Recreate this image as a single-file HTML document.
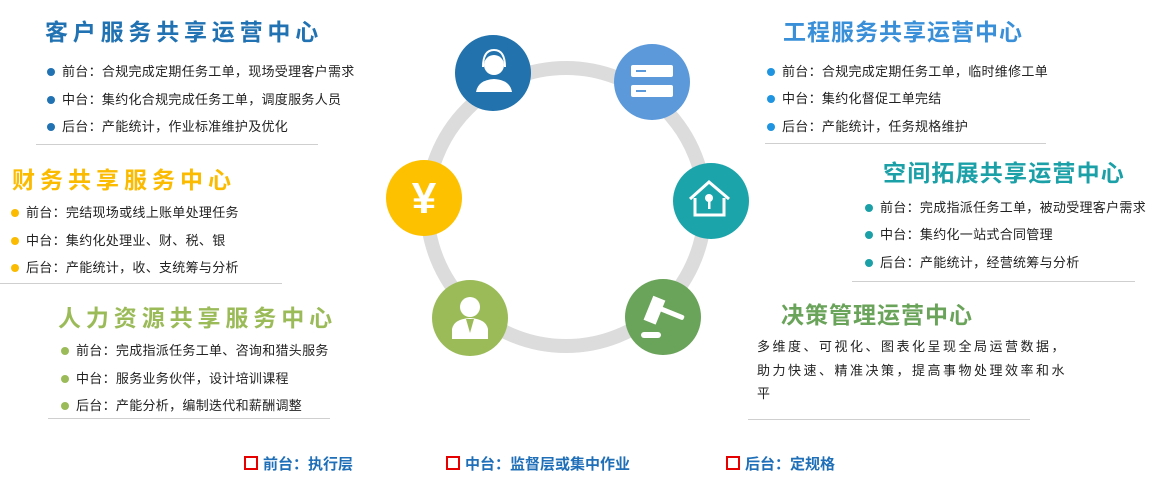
<!DOCTYPE html>
<html><head><meta charset="utf-8"><style>
*{margin:0;padding:0;box-sizing:border-box}
body{width:1155px;height:497px;background:#fff;position:relative;overflow:hidden;font-family:"Liberation Sans","Noto Sans CJK SC",sans-serif;color:#222}
.t{position:absolute;font-weight:bold;font-size:23px;line-height:28px;white-space:nowrap;font-family:"Liberation Sans","Noto Sans CJK SC",sans-serif}
.b{position:absolute;font-size:13px;line-height:16px;white-space:nowrap;letter-spacing:0.3px}
.b::before{content:"";position:absolute;left:-15px;top:4px;width:8px;height:8px;border-radius:50%;background:var(--c)}
.l{position:absolute;height:1px;background:#cfcfcf}
.lg{position:absolute;top:456px;font-size:15px;font-weight:bold;color:#1f6fb8;line-height:18px;white-space:nowrap}
.lg::before{content:"";display:inline-block;width:10px;height:10px;border:2px solid #e60000;margin-right:5px;vertical-align:-1px}
</style></head><body>

<svg width="1155" height="497" style="position:absolute;left:0;top:0">
<circle cx="566" cy="207" r="139" fill="none" stroke="#dcdcdc" stroke-width="14"/>
<circle cx="493" cy="73" r="38" fill="#2172ad"/>
<g fill="#fff"><circle cx="494" cy="65" r="10"/><path d="M476 92 q2-12 18-13 q16 1 18 13 z"/></g>
<path d="M483 67 q0-17 11-17 q11 0 11 17" fill="none" stroke="#fff" stroke-width="2"/>
<circle cx="652" cy="82" r="38" fill="#5b99db"/>
<rect x="631" y="65" width="42" height="12" rx="2" fill="#fff"/><rect x="631" y="85" width="42" height="12" rx="2" fill="#fff"/>
<rect x="636" y="70" width="10" height="2" fill="#5b99db"/><rect x="636" y="90" width="10" height="2" fill="#5b99db"/>
<circle cx="711" cy="201" r="38" fill="#1ca4ab"/>
<path d="M690 199 L709 182 L729 199" fill="none" stroke="#fff" stroke-width="3"/>
<path d="M695 198 V215 H724 V198" fill="none" stroke="#fff" stroke-width="3"/>
<circle cx="709" cy="198" r="4" fill="#fff"/><rect x="708" y="198" width="2.5" height="11" fill="#fff"/>
<circle cx="424" cy="198" r="38" fill="#fdc100"/>
<text x="424" y="213" text-anchor="middle" font-size="44" font-weight="bold" fill="#fff" font-family="Liberation Sans,sans-serif">¥</text>
<circle cx="470" cy="318" r="38" fill="#9bbb59"/>
<g fill="#fff"><circle cx="470" cy="307" r="10"/><path d="M452 339 v-10 q2-10 18-11 q16 1 18 11 v10 z"/></g>
<path d="M466 319 l4 14 l4-14" fill="#9bbb59"/>
<circle cx="663" cy="317" r="38" fill="#6aa35a"/>
<g fill="#fff"><rect x="648" y="297" width="13" height="26" transform="rotate(22 654 310)"/><rect x="656" y="306" width="30" height="5" rx="2" transform="rotate(22 660 308)"/><rect x="641" y="332" width="20" height="6" rx="3"/></g>
</svg>

<div class="t" style="left:45px;top:18px;color:#2172b2;letter-spacing:4.8px">客户服务共享运营中心</div>
<div class="b" style="--c:#2172b2;left:62px;top:64px">前台：合规完成定期任务工单，现场受理客户需求</div>
<div class="b" style="--c:#2172b2;left:62px;top:92px">中台：集约化合规完成任务工单，调度服务人员</div>
<div class="b" style="--c:#2172b2;left:62px;top:119px">后台：产能统计，作业标准维护及优化</div>
<div class="l" style="left:36px;top:144px;width:282px"></div>

<div class="t" style="left:12px;top:166px;color:#fbbb00;letter-spacing:5px">财务共享服务中心</div>
<div class="b" style="--c:#fbbb00;left:26px;top:205px">前台：完结现场或线上账单处理任务</div>
<div class="b" style="--c:#fbbb00;left:26px;top:233px">中台：集约化处理业、财、税、银</div>
<div class="b" style="--c:#fbbb00;left:26px;top:260px">后台：产能统计，收、支统筹与分析</div>
<div class="l" style="left:0;top:283px;width:282px"></div>

<div class="t" style="left:58px;top:304px;color:#9bbb59;letter-spacing:4.9px">人力资源共享服务中心</div>
<div class="b" style="--c:#9bbb59;left:76px;top:343px">前台：完成指派任务工单、咨询和猎头服务</div>
<div class="b" style="--c:#9bbb59;left:76px;top:371px">中台：服务业务伙伴，设计培训课程</div>
<div class="b" style="--c:#9bbb59;left:76px;top:398px">后台：产能分析，编制迭代和薪酬调整</div>
<div class="l" style="left:48px;top:418px;width:282px"></div>

<div class="t" style="left:783px;top:18px;color:#3a8fd9;letter-spacing:1px">工程服务共享运营中心</div>
<div class="b" style="--c:#1f94e0;left:782px;top:64px">前台：合规完成定期任务工单，临时维修工单</div>
<div class="b" style="--c:#1f94e0;left:782px;top:91px">中台：集约化督促工单完结</div>
<div class="b" style="--c:#1f94e0;left:782px;top:119px">后台：产能统计，任务规格维护</div>
<div class="l" style="left:765px;top:143px;width:281px"></div>

<div class="t" style="left:883px;top:159px;color:#1ba0a8;letter-spacing:1.2px">空间拓展共享运营中心</div>
<div class="b" style="--c:#1ba0a8;left:880px;top:200px">前台：完成指派任务工单，被动受理客户需求</div>
<div class="b" style="--c:#1ba0a8;left:880px;top:227px">中台：集约化一站式合同管理</div>
<div class="b" style="--c:#1ba0a8;left:880px;top:255px">后台：产能统计，经营统筹与分析</div>
<div class="l" style="left:852px;top:281px;width:283px"></div>

<div class="t" style="left:781px;top:301px;color:#6aa35a;letter-spacing:1px">决策管理运营中心</div>
<div style="position:absolute;left:757px;top:335px;font-size:13px;line-height:23.5px;letter-spacing:2.5px;white-space:nowrap">多维度、可视化、图表化呈现全局运营数据，<br>助力快速、精准决策，提高事物处理效率和水<br>平</div>
<div class="l" style="left:748px;top:419px;width:282px"></div>

<div class="lg" style="left:244px">前台：执行层</div>
<div class="lg" style="left:446px">中台：监督层或集中作业</div>
<div class="lg" style="left:726px">后台：定规格</div>
</body></html>
